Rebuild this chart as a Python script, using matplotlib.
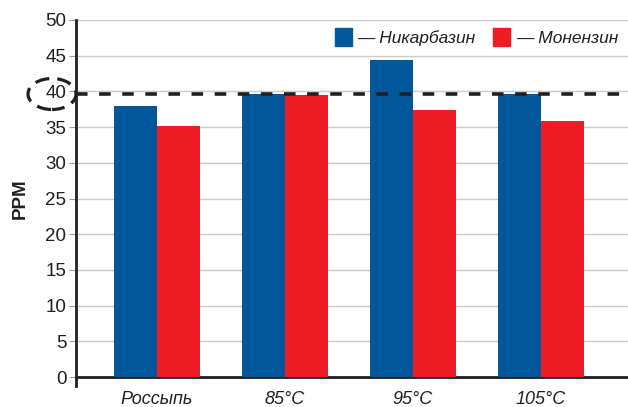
import matplotlib
matplotlib.use("Agg")
import matplotlib.pyplot as plt
import numpy as np
from matplotlib.patches import Patch, Ellipse

categories = ["Россыпь", "85°C", "95°C", "105°C"]
nicarbazin = [37.9, 39.6, 44.4, 39.6]
monensin = [35.1, 39.5, 37.4, 35.8]
threshold = 39.6
yticks = list(range(0, 51, 5))
series_names = ["— Никарбазин", "— Монензин"]

blue = "#00579A"
red = "#EE1C25"

plt.rcParams['font.family'] = ['Liberation Sans', 'DejaVu Sans']

fig = plt.figure(figsize=(6.28, 4.07), dpi=100)
ax = fig.add_axes([76/628, 1-377/407, 1-76/628, (377-20)/407])

x = np.arange(len(categories))
w = 0.336
ax.bar(x - w/2, nicarbazin, width=w, color=blue, zorder=3)
ax.bar(x + w/2, monensin, width=w, color=red, zorder=3)

ax.axhline(threshold, color="#231f20", lw=2.6, ls=(0, (3.2, 3.2)), zorder=4)

ax.set_xlim(-0.633, 3.68)
ax.set_ylim(0, 50)
ax.set_yticks(yticks)
ax.set_yticklabels([str(t) for t in yticks], fontsize=13.5, color="#231f20")
ax.set_xticks(x)
ax.set_xticklabels(categories, fontsize=13, style="italic", color="#231f20")
ax.tick_params(axis='x', length=0, pad=10)
ax.tick_params(axis='y', length=5, width=0.8, color="#999999", pad=2)
ax.grid(axis='y', color="#c8c8c8", lw=1, zorder=0)
for s in ["top", "right"]:
    ax.spines[s].set_visible(False)
ax.spines["left"].set_linewidth(2)
ax.spines["left"].set_color("#231f20")
ax.spines["left"].set_bounds(-1.3, 50)
ax.spines["bottom"].set_linewidth(2)
ax.spines["bottom"].set_color("#231f20")

ax.set_ylabel("PPM", fontsize=13.5, fontweight="bold", labelpad=12, color="#231f20")

handles = [Patch(color=blue), Patch(color=red)]
leg = ax.legend(handles, series_names, loc="upper right", ncol=2, frameon=False,
                bbox_to_anchor=(1.01, 1.02), handlelength=0.95, handleheight=1.15,
                handletextpad=0.35, columnspacing=1.0,
                prop={"style": "italic", "size": 12.5})
for t in leg.get_texts():
    t.set_color("#231f20")

ell = Ellipse((52/628, 1-94/407), 48/628, 31/407, transform=fig.transFigure,
              fill=False, ec="#231f20", lw=2.3, ls=(0.5, (4.5, 2.5)), clip_on=False,
              zorder=10)
fig.add_artist(ell)

fig.savefig("out.png", dpi=100)
